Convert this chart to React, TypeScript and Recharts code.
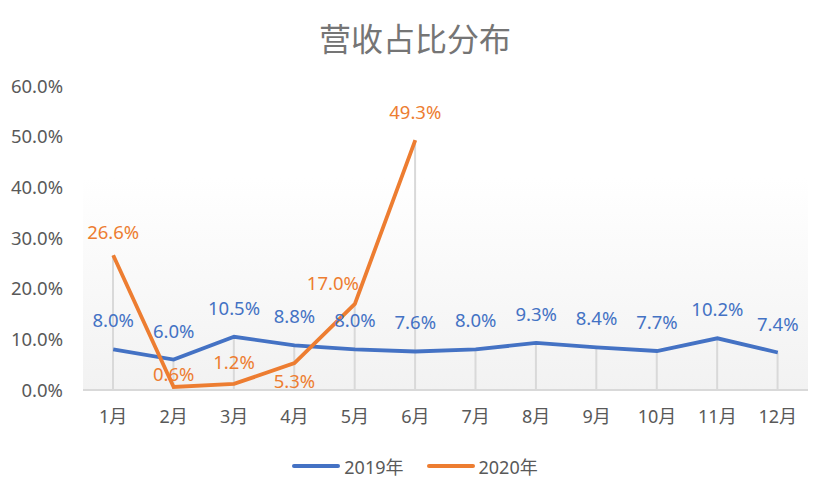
import { ComposedChart, Line, Bar, XAxis, YAxis, CartesianGrid, LabelList } from 'recharts'

const months = ['1月', '2月', '3月', '4月', '5月', '6月', '7月', '8月', '9月', '10月', '11月', '12月']
const share2019 = [8.0, 6.0, 10.5, 8.8, 8.0, 7.6, 8.0, 9.3, 8.4, 7.7, 10.2, 7.4]
const share2020: (number | null)[] = [26.6, 0.6, 1.2, 5.3, 17.0, 49.3, null, null, null, null, null, null]
const yTicks = [0, 10, 20, 30, 40, 50, 60]

// label nudges for 2020 (Excel placed a few of them off the default spot)
const label2020Offsets = [
  { dx: 0, dy: -16 },
  { dx: 0, dy: -6 },
  { dx: 0, dy: -15 },
  { dx: 0, dy: 25 },
  { dx: -22, dy: -14 },
  { dx: 0, dy: -21 },
]

const BLUE = '#4472C4'
const ORANGE = '#ED7D31'
const FONT = '"Noto Sans", "Noto Sans CJK SC", sans-serif'

const data = months.map((m, i) => ({
  name: m,
  y2019: share2019[i],
  y2020: share2020[i],
  drop: Math.max(share2019[i], share2020[i] ?? 0),
}))

const fmt = (v: number) => `${v.toFixed(1)}%`

function BlueLabel(props: any) {
  const { x, y, value } = props
  if (value == null) return null
  return (
    <text x={x} y={y - 22} textAnchor="middle" fill={BLUE} fontSize={18.5} fontFamily={FONT}>
      {fmt(Number(value))}
    </text>
  )
}

function OrangeLabel(props: any) {
  const { x, y, value, index } = props
  if (value == null) return null
  const o = label2020Offsets[index] ?? { dx: 0, dy: -16 }
  return (
    <text x={x + o.dx} y={y + o.dy} textAnchor="middle" fill={ORANGE} fontSize={18.5} fontFamily={FONT}>
      {fmt(Number(value))}
    </text>
  )
}

export default function App() {
  return (
    <div style={{ position: 'absolute', left: 0, top: 0, width: 830, height: 496, background: '#fff', fontFamily: FONT }}>
      <div style={{ position: 'absolute', top: 14, width: 830, textAlign: 'center', fontSize: 32, color: '#757575' }}>
        营收占比分布
      </div>
      <ComposedChart width={830} height={496} data={data} margin={{ top: 86, right: 22, bottom: 76, left: 0 }}>
        <defs>
          <linearGradient id="plotBg" x1="0" y1="0" x2="0" y2="1">
            <stop offset="0" stopColor="#ffffff" />
            <stop offset="0.3" stopColor="#ffffff" />
            <stop offset="1" stopColor="#f2f2f2" />
          </linearGradient>
        </defs>
        <CartesianGrid horizontal={false} vertical={false} fill="url(#plotBg)" />
        <XAxis
          dataKey="name"
          axisLine={{ stroke: '#d9d9d9', strokeWidth: 2 }}
          tickLine={false}
          tickMargin={14}
          tick={{ fontSize: 18, fill: '#595959', fontFamily: FONT }}
        />
        <YAxis
          domain={[0, 60]}
          ticks={yTicks}
          tickFormatter={fmt}
          axisLine={false}
          tickLine={false}
          width={83}
          tickMargin={14}
          tick={{ fontSize: 18.5, fill: '#595959', fontFamily: FONT }}
        />
        <Bar dataKey="drop" barSize={2} fill="#d9d9d9" isAnimationActive={false} />
        <Line
          dataKey="y2019"
          stroke={BLUE}
          strokeWidth={3.8}
          dot={false}
          activeDot={false}
          isAnimationActive={false}
        >
          <LabelList dataKey="y2019" content={<BlueLabel />} />
        </Line>
        <Line
          dataKey="y2020"
          stroke={ORANGE}
          strokeWidth={3.8}
          dot={false}
          activeDot={false}
          connectNulls={false}
          isAnimationActive={false}
        >
          <LabelList dataKey="y2020" content={<OrangeLabel />} />
        </Line>
      </ComposedChart>
      {/* legend */}
      <div style={{ position: 'absolute', top: 453, width: 830, display: 'flex', justifyContent: 'center', fontSize: 18, color: '#595959' }}>
        <div style={{ display: 'flex', alignItems: 'center', marginRight: 23 }}>
          <span style={{ display: 'inline-block', width: 48, height: 4, borderRadius: 2, background: BLUE, marginRight: 4 }} />
          2019年
        </div>
        <div style={{ display: 'flex', alignItems: 'center' }}>
          <span style={{ display: 'inline-block', width: 48, height: 4, borderRadius: 2, background: ORANGE, marginRight: 4 }} />
          2020年
        </div>
      </div>
    </div>
  )
}
